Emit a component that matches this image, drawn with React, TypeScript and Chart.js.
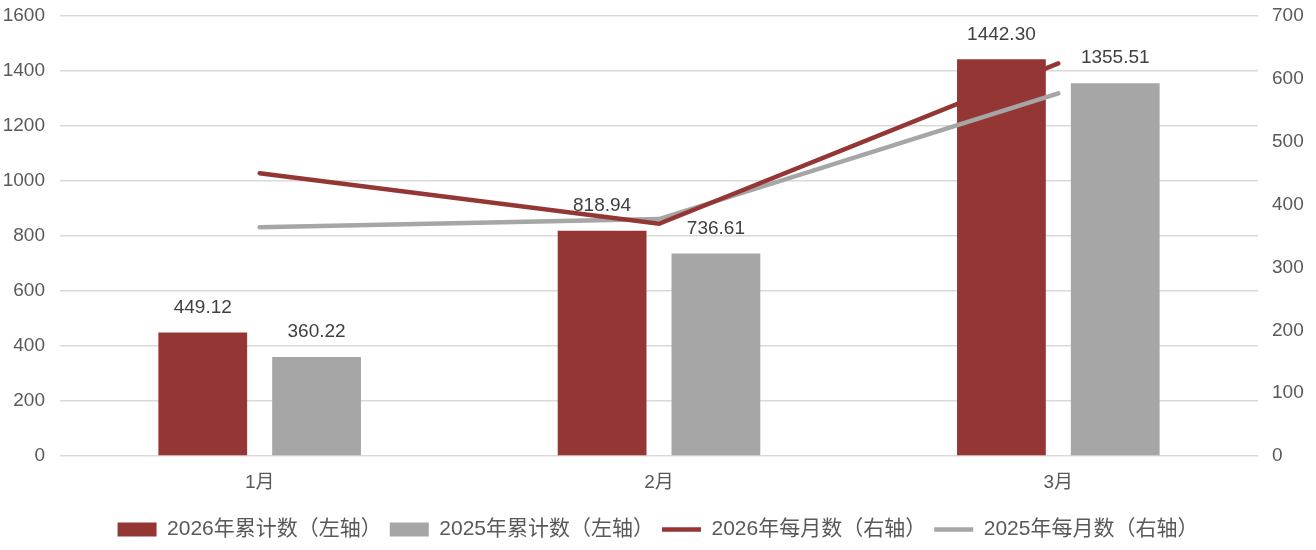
import React, { useEffect, useRef } from "react";
import { Chart, registerables } from "chart.js";

Chart.register(...registerables);

const categories = ["1月", "2月", "3月"];
const cum2026 = [449.12, 818.94, 1442.3];
const cum2025 = [360.22, 736.61, 1355.51];
const monthly2026 = [450, 369.5, 624.5];
const monthly2025 = [364, 377, 577];
const leftTicks = [0, 200, 400, 600, 800, 1000, 1200, 1400, 1600];
const rightTicks = [0, 100, 200, 300, 400, 500, 600, 700];
const seriesNames = [
  "2026年累计数（左轴）",
  "2025年累计数（左轴）",
  "2026年每月数（右轴）",
  "2025年每月数（右轴）",
];

const RED = "#943634";
const GRAY = "#a6a6a6";
const FONT = "'Liberation Sans', 'Noto Sans CJK SC', sans-serif";

const barLabelPlugin = {
  id: "barLabels",
  afterDatasetsDraw(chart: any) {
    const ctx = chart.ctx;
    ctx.save();
    ctx.font = `19px ${FONT}`;
    ctx.fillStyle = "#404040";
    ctx.textAlign = "center";
    ctx.textBaseline = "middle";
    [0, 1].forEach((di) => {
      const meta = chart.getDatasetMeta(di);
      const data = chart.data.datasets[di].data as number[];
      meta.data.forEach((el: any, i: number) => {
        ctx.fillText(data[i].toFixed(2), el.x, el.y - 25);
      });
    });
    ctx.restore();
  },
};

export default function App() {
  const ref = useRef<HTMLCanvasElement | null>(null);
  useEffect(() => {
    if (!ref.current) return;
    const chart = new Chart(ref.current, {
      type: "bar",
      data: {
        labels: categories,
        datasets: [
          {
            type: "bar",
            label: seriesNames[0],
            data: cum2026,
            backgroundColor: RED,
            borderColor: RED,
            borderWidth: 0,
            yAxisID: "y",
            order: 2,
            barPercentage: 0.78,
            categoryPercentage: 0.57,
            pointStyle: "rect",
          } as any,
          {
            type: "bar",
            label: seriesNames[1],
            data: cum2025,
            backgroundColor: GRAY,
            borderColor: GRAY,
            borderWidth: 0,
            yAxisID: "y",
            order: 2,
            barPercentage: 0.78,
            categoryPercentage: 0.57,
            pointStyle: "rect",
          } as any,
          {
            type: "line",
            label: seriesNames[2],
            data: monthly2026,
            borderColor: RED,
            backgroundColor: RED,
            borderWidth: 4.5,
            borderCapStyle: "round",
            pointRadius: 0,
            pointStyle: "line",
            yAxisID: "y1",
            order: 1,
            tension: 0,
          } as any,
          {
            type: "line",
            label: seriesNames[3],
            data: monthly2025,
            borderColor: GRAY,
            backgroundColor: GRAY,
            borderWidth: 4.5,
            borderCapStyle: "round",
            pointRadius: 0,
            pointStyle: "line",
            yAxisID: "y1",
            order: 1,
            tension: 0,
          } as any,
        ],
      },
      options: {
        animation: false,
        responsive: false,
        maintainAspectRatio: false,
        layout: { padding: { top: 16, left: 0, right: 0, bottom: 0 } },
        plugins: {
          tooltip: { enabled: false },
          legend: {
            position: "bottom",
            labels: {
              usePointStyle: true,
              pointStyleWidth: 39,
              boxWidth: 39,
              boxHeight: 14,
              padding: 8,
              color: "#595959",
              font: { size: 21, family: FONT },
              sort: (a: any, b: any) => a.datasetIndex - b.datasetIndex,
            },
          },
        },
        scales: {
          x: {
            grid: { display: false, drawTicks: false },
            border: { display: false },
            ticks: {
              color: "#595959",
              font: { size: 19, family: FONT },
              padding: 15,
            },
            afterFit(scale: any) {
              scale.height = 55;
              scale.paddingLeft = 0;
              scale.paddingRight = 0;
            },
          },
          y: {
            position: "left",
            min: 0,
            max: 1600,
            grid: { color: "#d9d9d9", lineWidth: 1.5, drawTicks: false },
            border: { display: false },
            afterBuildTicks(scale: any) {
              scale.ticks = leftTicks.map((v) => ({ value: v }));
            },
            ticks: {
              color: "#595959",
              font: { size: 19, family: FONT },
              padding: 15,
              callback: (v: any) => String(v),
            },
            afterFit(scale: any) {
              scale.width = 60;
              scale.paddingTop = 0;
              scale.paddingBottom = 0;
            },
          },
          y1: {
            position: "right",
            min: 0,
            max: 700,
            grid: { display: false, drawTicks: false },
            border: { display: false },
            afterBuildTicks(scale: any) {
              scale.ticks = rightTicks.map((v) => ({ value: v }));
            },
            ticks: {
              color: "#595959",
              font: { size: 19, family: FONT },
              padding: 14,
              callback: (v: any) => String(v),
            },
            afterFit(scale: any) {
              scale.width = 58;
              scale.paddingTop = 0;
              scale.paddingBottom = 0;
            },
          },
        },
      } as any,
      plugins: [barLabelPlugin],
    });
    return () => chart.destroy();
  }, []);
  return (
    <div style={{ position: "absolute", left: 0, top: 0, width: 1316, height: 550, background: "#fff" }}>
      <canvas ref={ref} width={1316} height={550} style={{ width: 1316, height: 550 }} />
    </div>
  );
}
